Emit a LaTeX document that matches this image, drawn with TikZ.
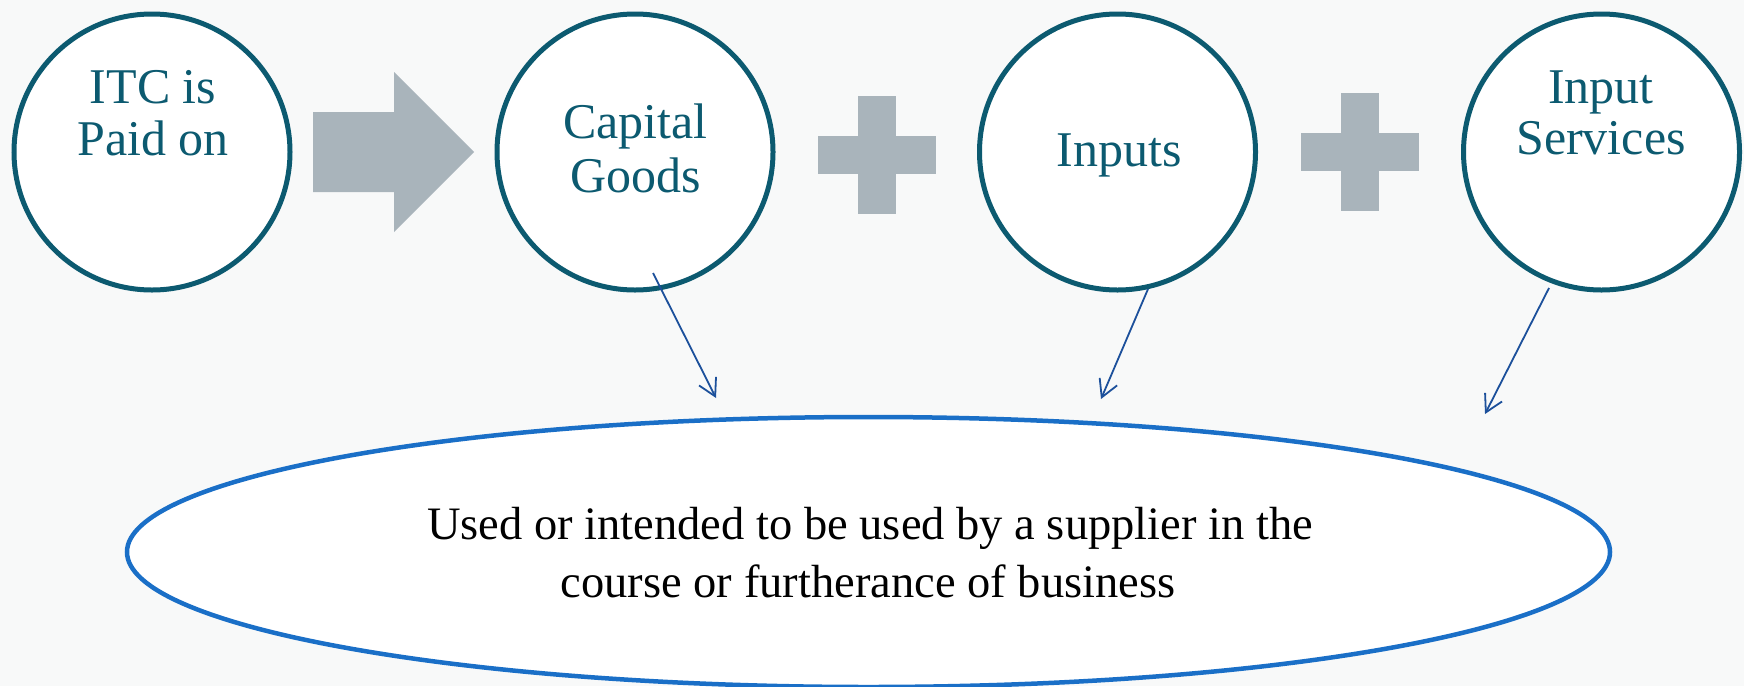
\documentclass[tikz,border=0pt]{standalone}
\usepackage{fontspec}
\setmainfont{Liberation Serif}
\usetikzlibrary{shapes.geometric,arrows.meta}
\definecolor{circteal}{RGB}{12,90,112}
\definecolor{plusgray}{RGB}{169,180,187}
\definecolor{ellblue}{RGB}{26,111,199}
\definecolor{linkblue}{RGB}{28,80,155}
\definecolor{bgcol}{RGB}{248,249,249}
\begin{document}
\begin{tikzpicture}[x=1pt,y=-1pt,
  ring/.style={circle,draw=circteal,fill=white,line width=5pt,minimum size=276pt,inner sep=0pt},
  ringtext/.style={text=circteal,font=\fontsize{50}{52}\selectfont,anchor=base,inner sep=0pt},
  bigell/.style={ellipse,draw=ellblue,fill=white,line width=4.5pt,minimum width=1483pt,minimum height=270pt,inner sep=0pt},
  elltext/.style={text=black,font=\fontsize{46.5}{58}\selectfont,anchor=base,inner sep=0pt},
  graybar/.style={fill=plusgray},
  link/.style={draw=linkblue,line width=1.8pt,-{Straight Barb[length=17pt,width=19pt,line width=1.8pt]}}]
\fill[bgcol] (0,0) rectangle (1744,686);
\useasboundingbox (0,0) rectangle (1744,686);

% circles
\node[ring] (itc) at (152,152) {};
\node[ring] (cap) at (635,152) {};
\node[ring] (inp) at (1117.5,152) {};
\node[ring] (ser) at (1601.5,152) {};

% circle texts
\node[ringtext] (itc1) at (153,103) {ITC is};
\node[ringtext] (itc2) at (153,155) {Paid on};
\node[ringtext] (cap1) at (635.5,138) {Capital};
\node[ringtext] (cap2) at (635.5,192) {Goods};
\node[ringtext] (inp1) at (1119,166) {Inputs};
\node[ringtext] (ser1) at (1601,103) {Input};
\node[ringtext] (ser2) at (1601,154) {Services};

% block arrow
\fill[plusgray] (313,112) -- (394,112) -- (394,72) -- (474,152) -- (394,232) -- (394,192) -- (313,192) -- cycle;

% plus signs
\fill[graybar] (818,136) rectangle (936,174);
\fill[graybar] (858,96) rectangle (896,214);
\fill[graybar] (1301,133) rectangle (1419,171);
\fill[graybar] (1341,93) rectangle (1379,211);

% big ellipse
\node[bigell] (use) at (868.5,552) {};
\node[elltext] (use1) at (870,539) {Used or intended to be used by a supplier in the};
\node[elltext] (use2) at (868,597) {course or furtherance of business};

% connectors
\coordinate (s1) at (653,273);
\coordinate (t1) at (716,398);
\coordinate (s2) at (1148,289);
\coordinate (t2) at (1101,399);
\coordinate (s3) at (1549,288);
\coordinate (t3) at (1485,414);
\draw[link] (s1) -- (t1);
\draw[link] (s2) -- (t2);
\draw[link] (s3) -- (t3);
\end{tikzpicture}
\end{document}
